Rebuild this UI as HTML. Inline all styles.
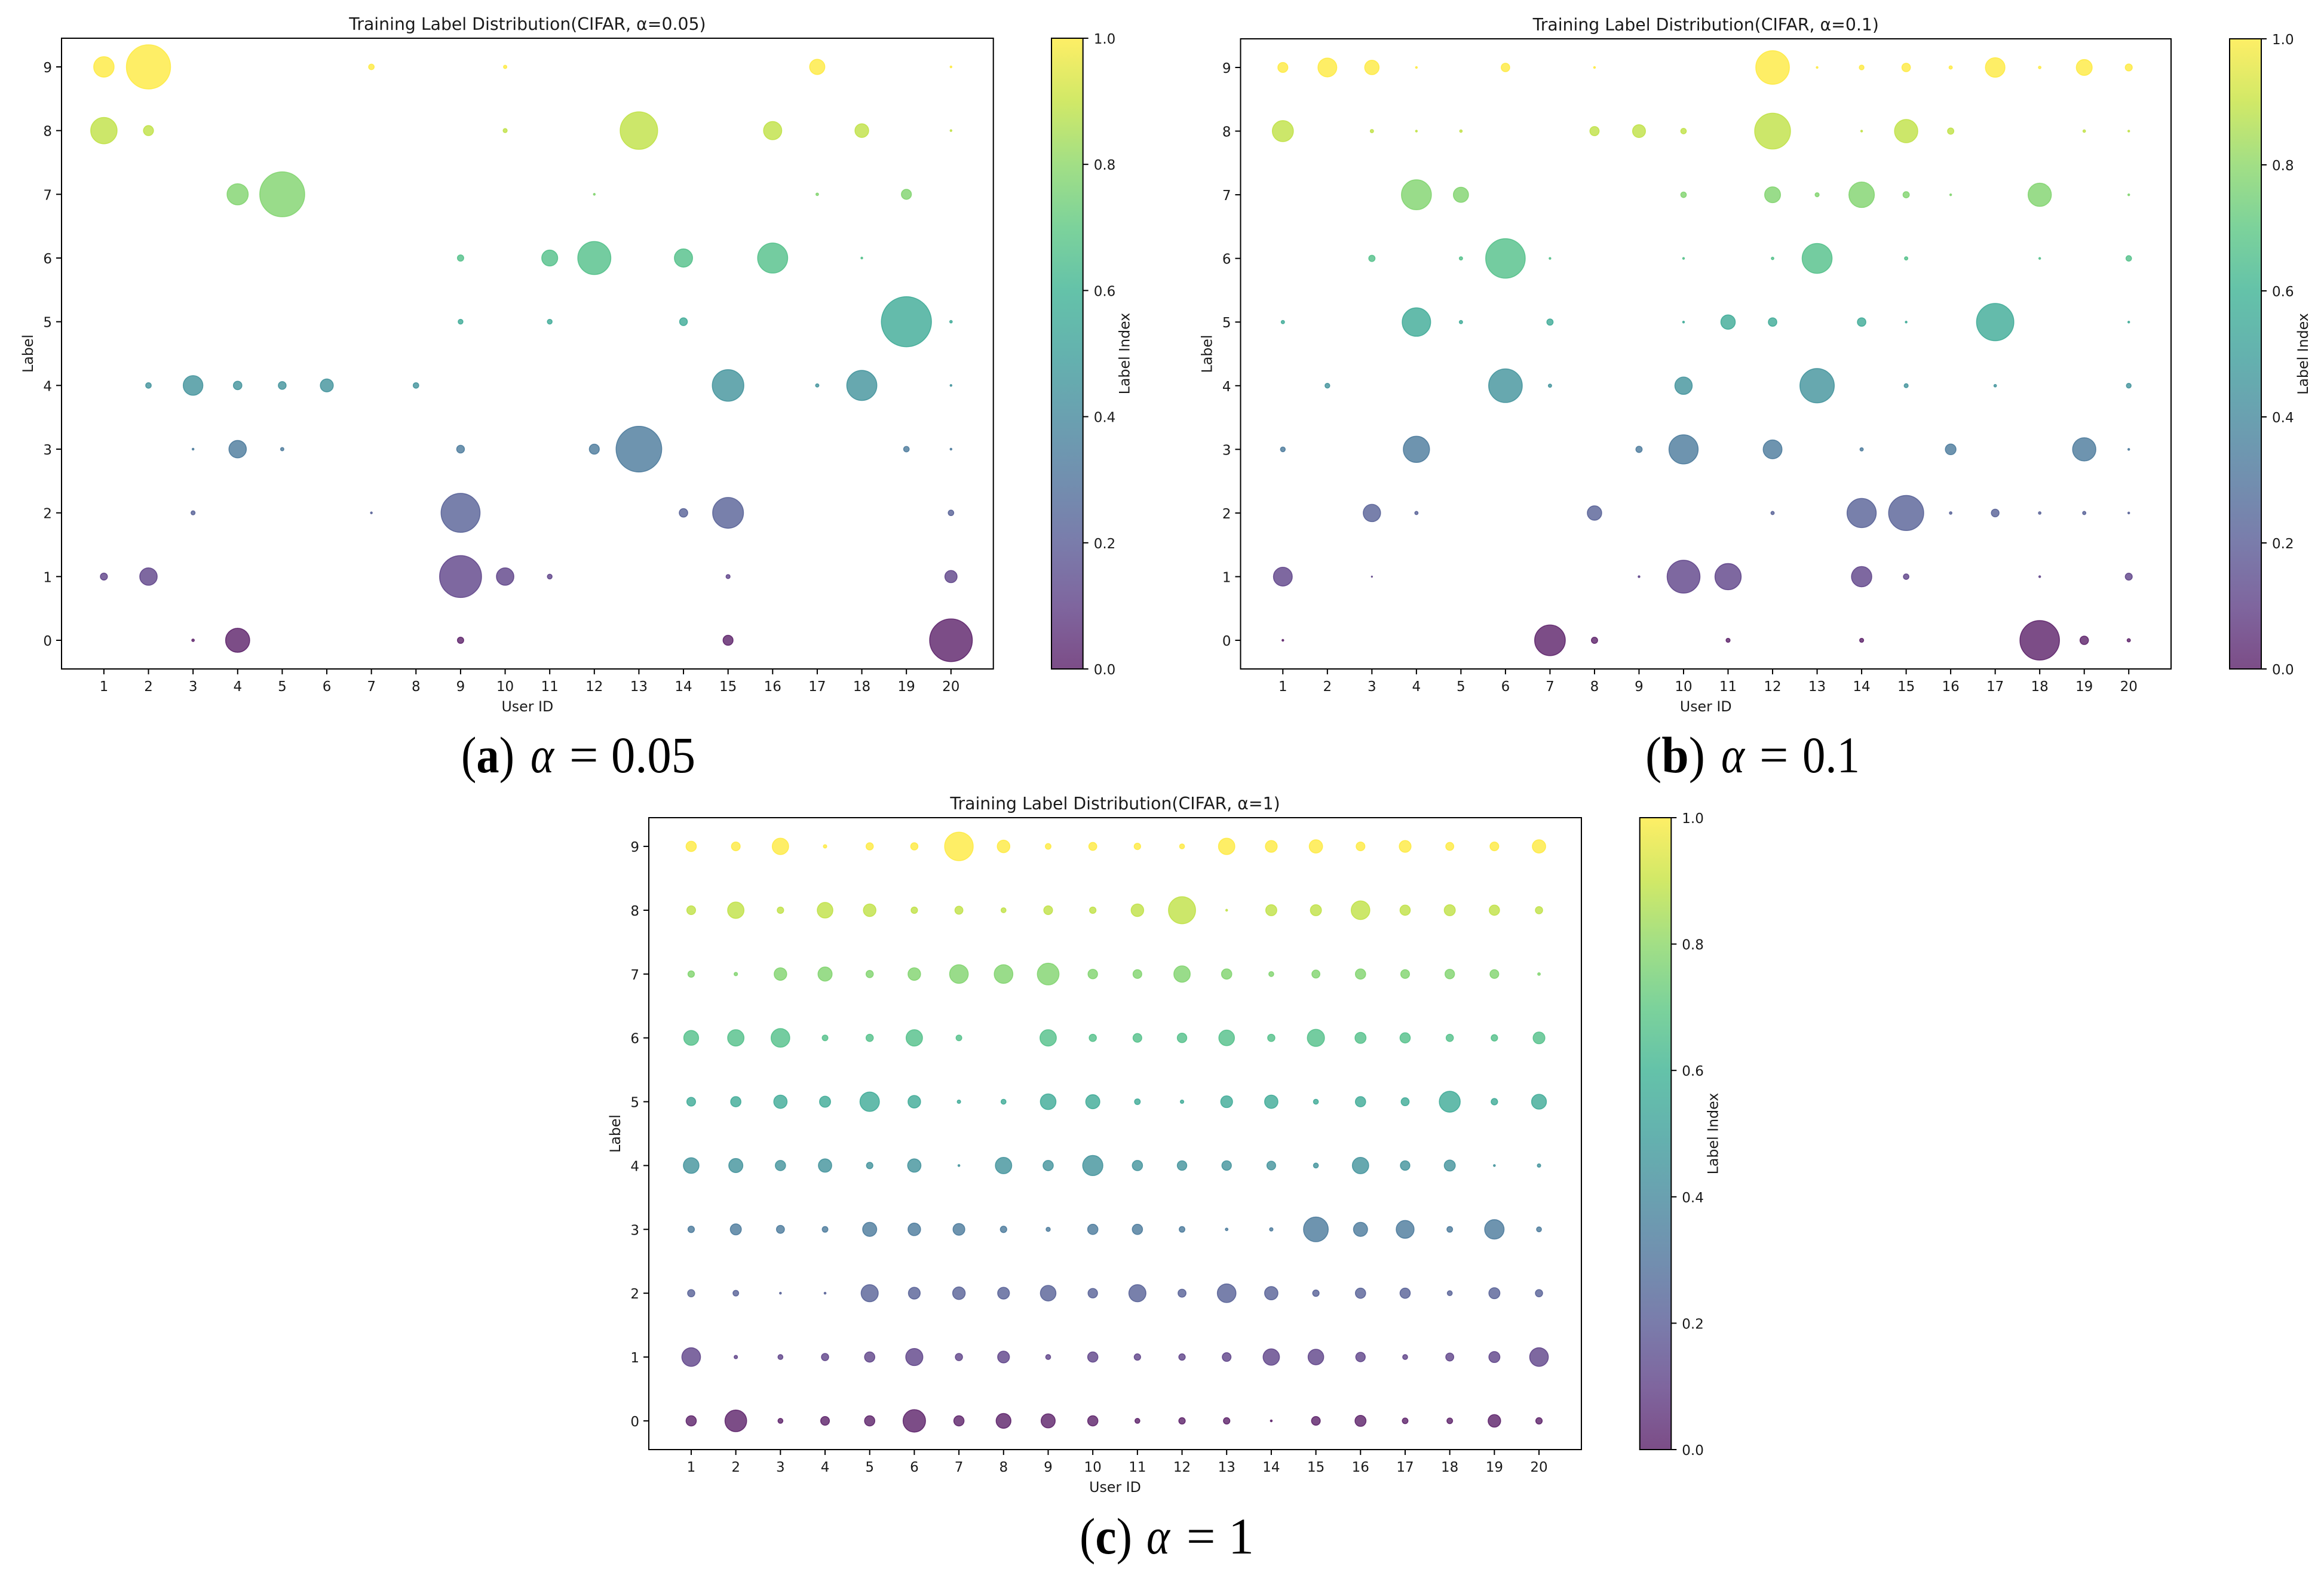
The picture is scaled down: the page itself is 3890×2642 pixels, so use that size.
<!DOCTYPE html>
<html lang="en">
<head>
<meta charset="utf-8">
<title>Training Label Distribution (CIFAR)</title>
<style>
  html, body { margin: 0; padding: 0; background: #fff; }
  svg { display: block; }
  .tick { font: 23px "DejaVu Sans", sans-serif; fill: #1a1a1a; }
  .axis-label { font: 23.7px "DejaVu Sans", sans-serif; fill: #1a1a1a; }
  .title { font: 28.3px "DejaVu Sans", sans-serif; fill: #1a1a1a; }
  .caption { font: 86px "Liberation Serif", serif; fill: #000; }
</style>
</head>
<body>
<svg id="figure" xmlns="http://www.w3.org/2000/svg" width="3890" height="2642" viewBox="0 0 3890 2642">
  <rect width="3890" height="2642" fill="#ffffff"/>
  <defs id="defs"></defs>

  <g class="caption">
    <text x="772" y="1293" textLength="89" lengthAdjust="spacingAndGlyphs">(<tspan font-weight="bold">a</tspan>)</text>
    <text x="888" y="1293" font-style="italic" textLength="39" lengthAdjust="spacingAndGlyphs">α</text>
    <text x="953" y="1293">=</text>
    <text x="1023" y="1293" textLength="141" lengthAdjust="spacingAndGlyphs">0.05</text>
  </g>
  <g class="caption">
    <text x="2754" y="1293" textLength="100" lengthAdjust="spacingAndGlyphs">(<tspan font-weight="bold">b</tspan>)</text>
    <text x="2881" y="1293" font-style="italic" textLength="39" lengthAdjust="spacingAndGlyphs">α</text>
    <text x="2945" y="1293">=</text>
    <text x="3017" y="1293" textLength="96" lengthAdjust="spacingAndGlyphs">0.1</text>
  </g>
  <g class="caption">
    <text x="1807" y="2601" textLength="88" lengthAdjust="spacingAndGlyphs">(<tspan font-weight="bold">c</tspan>)</text>
    <text x="1919" y="2601" font-style="italic" textLength="39" lengthAdjust="spacingAndGlyphs">α</text>
    <text x="1986" y="2601">=</text>
    <text x="2056" y="2601">1</text>
  </g>
</svg>

<script>
// Tick labels
const userTicks = [1,2,3,4,5,6,7,8,9,10,11,12,13,14,15,16,17,18,19,20];
const labelTicks = [0,1,2,3,4,5,6,7,8,9];
const colorbarTicks = [0.0,0.2,0.4,0.6,0.8,1.0];

// Sample counts: one row per label (0..9), one column per user (1..20)
const countsAlpha005 = [
  [0,0,16,1089,0,0,0,0,81,0,0,0,0,0,196,0,0,0,0,3364],
  [100,576,0,0,0,0,0,0,3249,576,49,0,0,0,36,0,0,0,0,289],
  [0,0,36,0,0,0,9,0,2809,0,0,0,0,144,1764,0,0,0,0,64],
  [0,0,9,576,25,0,0,0,121,0,0,196,3844,0,0,0,0,0,64,9],
  [0,64,729,144,121,324,0,64,0,0,0,0,0,0,1849,0,25,1681,0,9],
  [0,0,0,0,0,0,0,0,49,0,49,0,0,121,0,0,0,0,4624,16],
  [0,0,0,0,0,0,0,0,81,0,484,2025,0,625,0,1681,0,9,0,0],
  [0,0,0,841,3721,0,0,0,0,0,0,9,0,0,0,0,16,0,196,0],
  [1296,196,0,0,0,0,0,0,0,36,0,0,2601,0,0,625,0,361,0,9],
  [784,3600,0,0,0,0,64,0,0,25,0,0,0,0,0,0,441,0,0,9]
];
const countsAlpha01 = [
  [9,0,0,0,0,0,1764,81,0,0,36,0,0,36,0,0,0,2916,144,25],
  [676,0,4,0,0,0,0,0,9,2025,1296,0,0,784,64,0,0,9,0,100],
  [0,0,576,25,0,0,0,400,0,0,0,25,0,1600,2304,16,121,16,25,9],
  [49,0,0,1296,0,0,0,0,81,1600,0,676,0,25,0,225,0,0,1024,9],
  [0,49,0,0,0,2116,25,0,0,576,0,0,2209,0,36,0,16,0,0,49],
  [25,0,0,1521,25,0,81,0,0,9,400,144,0,144,9,0,2601,0,0,9],
  [0,0,81,0,25,2916,9,0,0,9,0,16,1681,0,25,0,0,9,0,64],
  [0,0,0,1681,441,0,0,0,0,64,0,484,36,1225,81,9,0,1024,0,9],
  [841,0,25,9,16,0,0,169,324,64,0,2401,0,9,1024,81,0,0,16,9],
  [196,676,400,9,0,144,0,9,0,0,0,2116,9,49,144,25,729,16,484,100]
];
const countsAlpha1 = [
  [196,841,49,144,196,900,196,400,361,196,49,81,81,9,144,225,64,64,289,81],
  [625,25,49,100,196,529,100,256,49,196,81,81,144,484,441,169,49,121,225,625],
  [100,64,9,9,529,256,289,256,441,169,529,121,625,324,81,196,196,49,225,100],
  [81,225,121,64,361,289,256,81,36,196,196,64,16,25,1089,361,576,64,676,49],
  [441,361,196,324,81,324,9,484,196,729,196,169,169,144,49,484,169,225,9,25],
  [144,196,324,225,676,289,25,49,441,361,64,25,256,324,49,196,121,784,81,400],
  [400,484,625,64,100,484,64,0,484,100,144,169,441,100,529,225,196,100,81,256],
  [81,25,289,361,100,289,625,625,841,169,144,484,196,49,121,196,144,169,144,16],
  [144,484,81,441,289,81,121,49,144,81,289,1296,9,225,225,625,196,225,196,100],
  [196,144,484,25,100,100,1444,289,64,121,81,49,484,256,324,144,256,121,144,324]
];

const viridis = ['#440154','#482475','#414487','#355f8d','#2a788e','#21918c','#22a884','#44bf70','#7ad151','#bddf26','#fde725'];

const svg = document.getElementById('figure');
const defs = document.getElementById('defs');
const NS = 'http://www.w3.org/2000/svg';

function make(parent, tag, attrs, text) {
  const el = document.createElementNS(NS, tag);
  for (const k in attrs) el.setAttribute(k, attrs[k]);
  if (text !== undefined) el.textContent = text;
  parent.appendChild(el);
  return el;
}

function hexToRgb(h) {
  return [parseInt(h.slice(1,3),16), parseInt(h.slice(3,5),16), parseInt(h.slice(5,7),16)];
}

function viridisColor(t) {
  const p = Math.max(0, Math.min(1, t)) * (viridis.length - 1);
  const i = Math.min(Math.floor(p), viridis.length - 2);
  const f = p - i;
  const a = hexToRgb(viridis[i]);
  const b = hexToRgb(viridis[i + 1]);
  return 'rgb(' + a.map((c, j) => Math.round(c + (b[j] - c) * f)).join(',') + ')';
}

// shared colorbar gradient
const gradient = make(defs, 'linearGradient', { id: 'viridis-gradient', x1: 0, y1: 1, x2: 0, y2: 0 });
viridis.forEach((c, i) => {
  make(gradient, 'stop', { offset: i / (viridis.length - 1), 'stop-color': c, 'stop-opacity': 0.7 });
});

function drawPanel(p) {
  const xMin = 0.05, xMax = 20.95, yMin = -0.45, yMax = 9.45;
  const xScale = u => p.left + (u - xMin) / (xMax - xMin) * (p.right - p.left);
  const yScale = l => p.bottom - (l - yMin) / (yMax - yMin) * (p.bottom - p.top);
  const sizeScale = c => p.sizeK * Math.sqrt(c);
  const colorScale = l => viridisColor(l / 9);
  const cbScale = v => p.bottom - v * (p.bottom - p.top);

  const g = make(svg, 'g', {});
  
  

  // points
  const pts = make(g, 'g', {});
  
  
  p.counts.forEach((row, l) => {
    row.forEach((c, i) => {
      if (!c) return;
      const color = colorScale(labelTicks[l]);
      const dot = make(pts, 'circle', {
        cx: xScale(userTicks[i]).toFixed(2),
        cy: yScale(labelTicks[l]).toFixed(2),
        r: Math.max(sizeScale(c) / 2 - 0.3, 1).toFixed(2),
        fill: color, 'fill-opacity': 0.7,
        stroke: color, 'stroke-opacity': 0.7, 'stroke-width': 1.4
      });
      
      
    });
  });

  // axes frame
  const frame = make(g, 'rect', {
    x: p.left, y: p.top, width: p.right - p.left, height: p.bottom - p.top,
    fill: 'none', stroke: '#000', 'stroke-width': 2
  });
  
  

  // x ticks
  userTicks.forEach(u => {
    const x = xScale(u);
    const t = make(g, 'line', { x1: x, x2: x, y1: p.bottom, y2: p.bottom + 9, stroke: '#000', 'stroke-width': 2 });
    
    
    const lab = make(g, 'text', { x: x, y: p.bottom + 37, 'text-anchor': 'middle', class: 'tick' }, String(u));
    
    
  });

  // y ticks
  labelTicks.forEach(l => {
    const y = yScale(l);
    const t = make(g, 'line', { x1: p.left - 9, x2: p.left, y1: y, y2: y, stroke: '#000', 'stroke-width': 2 });
    
    
    const lab = make(g, 'text', { x: p.left - 16, y: y + 9, 'text-anchor': 'end', class: 'tick' }, String(l));
    
    
  });

  // titles
  const cx = (p.left + p.right) / 2;
  const cy = (p.top + p.bottom) / 2;
  const title = make(g, 'text', { x: cx, y: p.top - 14, 'text-anchor': 'middle', class: 'title' }, p.title);
  
  
  const xl = make(g, 'text', { x: cx, y: p.bottom + 71, 'text-anchor': 'middle', class: 'axis-label' }, 'User ID');
  
  
  const ylX = p.left - 48;
  const yl = make(g, 'text', { x: ylX, y: cy, 'text-anchor': 'middle', class: 'axis-label', transform: 'rotate(-90 ' + ylX + ' ' + cy + ')' }, 'Label');
  
  

  // colorbar
  const bar = make(g, 'rect', {
    x: p.cbLeft, y: p.top, width: p.cbRight - p.cbLeft, height: p.bottom - p.top,
    fill: 'url(#viridis-gradient)', stroke: '#000', 'stroke-width': 2
  });
  
  
  colorbarTicks.forEach(v => {
    const y = cbScale(v);
    const t = make(g, 'line', { x1: p.cbRight, x2: p.cbRight + 9, y1: y, y2: y, stroke: '#000', 'stroke-width': 2 });
    
    
    const lab = make(g, 'text', { x: p.cbRight + 18, y: y + 9, class: 'tick' }, v.toFixed(1));
    
    
  });
  const cbX = p.cbRight + 78;
  const cbl = make(g, 'text', { x: cbX, y: cy, 'text-anchor': 'middle', class: 'axis-label', transform: 'rotate(-90 ' + cbX + ' ' + cy + ')' }, 'Label Index');
  
  
}

drawPanel({ id: 'a', title: 'Training Label Distribution(CIFAR, α=0.05)', counts: countsAlpha005,
  left: 103, right: 1662.7, top: 64, bottom: 1120, cbLeft: 1760, cbRight: 1812.7, sizeK: 1.244 });
drawPanel({ id: 'b', title: 'Training Label Distribution(CIFAR, α=0.1)', counts: countsAlpha01,
  left: 2076.5, right: 3634, top: 65, bottom: 1120, cbLeft: 3732, cbRight: 3785, sizeK: 1.238 });
drawPanel({ id: 'c', title: 'Training Label Distribution(CIFAR, α=1)', counts: countsAlpha1,
  left: 1086, right: 2647, top: 1369, bottom: 2427, cbLeft: 2744.7, cbRight: 2797.3, sizeK: 1.276 });
</script>
</body>
</html>
